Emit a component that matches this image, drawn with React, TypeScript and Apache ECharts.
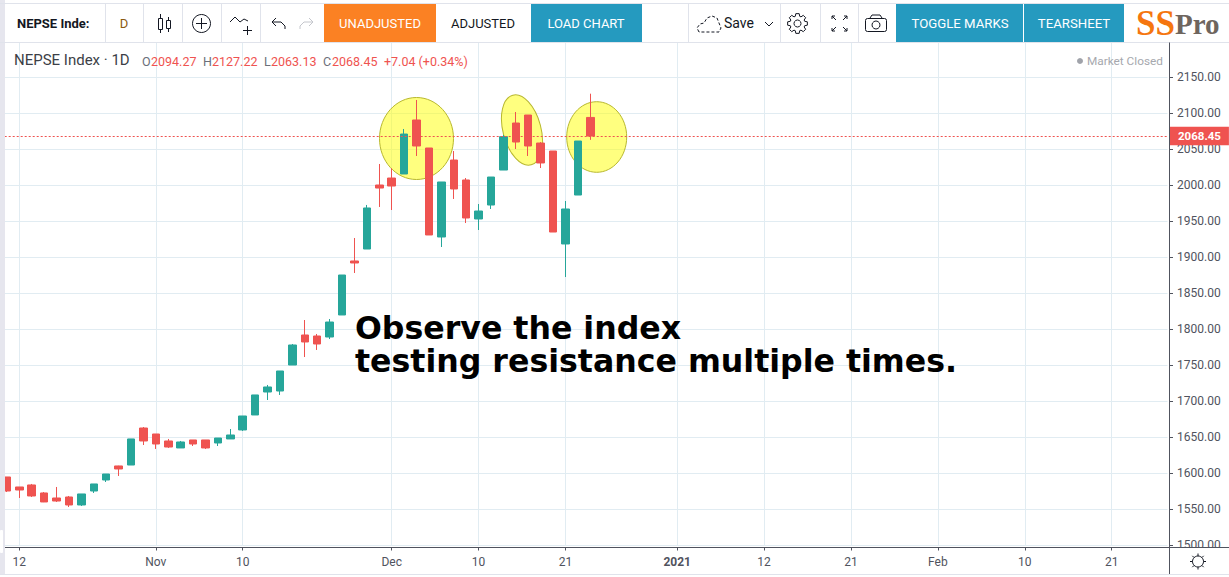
import React, { useEffect, useRef } from "react";
import * as echarts from "echarts";

const opens = [1594.9,1581,1583.8,1572.7,1565.7,1567.1,1556,1575.4,1590.7,1610.2,1611.5,1662.9,1654.6,1644.9,1635.2,1646.3,1646.3,1642.1,1647.7,1660.2,1681,1712.9,1714.3,1750.4,1792.1,1790.7,1789.3,1819.9,1894.9,1911.5,2000.4,2010.1,2015.7,2090.7,2051.8,1928.2,2035.1,2007.4,1953.2,1972.6,2021.2,2086.5,2097.6,2058.7,2047.6,1918.5,1986.5,2094.27];
const closes = [1575.4,1576.8,1568.5,1560.2,1561.5,1556,1571.3,1585.2,1599,1606,1647.7,1644.9,1640.7,1636.5,1643.5,1640.7,1635.2,1649,1653.2,1679.6,1708.8,1719.9,1742.1,1778.2,1782.4,1779.6,1810.1,1875.4,1892.1,1968.5,1996.2,1999,2071.2,2054.6,1931,2004.6,1994.9,1954.6,1964.3,2011.5,2067.5,2060.1,2054.6,2031,1935.1,1967.1,2061.5,2068.45];
const lows = [1574,1565.7,1567.1,1560,1560.2,1553.2,1554.6,1572.7,1587.9,1596.3,1611.5,1639.3,1633.8,1635.2,1635.2,1637.9,1633.8,1637.9,1647.7,1658.8,1681,1701.8,1708.8,1750.4,1761.5,1771.3,1786.5,1819.9,1878.2,1911.5,1969.9,1965.7,2015.7,2040.7,1931,1914.3,1981,1947.6,1937.9,1967.1,2021.2,2050.4,2040.7,2024,1935.1,1872.6,1986.5,2063.13];
const highs = [1594.9,1581,1585.2,1574,1581,1568.5,1571.3,1585.2,1599,1610.5,1647.7,1664.3,1654.6,1647.7,1644.9,1646.3,1646.3,1649,1661.5,1679.6,1708.8,1722.7,1742.1,1779.6,1812.9,1793.5,1814.3,1875.4,1926.8,1972.7,2029.6,2023.6,2078.2,2118.5,2051.8,2004.6,2047.6,2010.1,1974,2011.5,2069.9,2101.8,2097.6,2060,2047.6,1978.2,2061.5,2127.22];
const tickIndices = [1,12,19,31,38,45,54,61,68,75,82,89];
const tickLabels = ["12","Nov","10","Dec","10","21","2021","12","21","Feb","10","21"];
const categoryCount = 94;
const lastPrice = 2068.45;

const FONT = "Roboto";
const Z = 100;
const INK = "#131722";
const AXIS = "#50535e";
const BORDER = "#e0e3eb";
const BLUE = "#259abf";
const ORANGE = "#fb8123";

const txt = (text: string, x: number, y: number, fill: string, size = 13, extra: any = {}) => ({
  type: "text", silent: true, z: Z + 2, x, y,
  style: { text, fill, font: `${extra.weight || "normal"} ${size}px ${extra.family || FONT}`, align: extra.align || "left", verticalAlign: "middle", lineHeight: extra.lineHeight },
});
const box = (x: number, y: number, width: number, height: number, fill: string, z = Z) => ({
  type: "rect", silent: true, z, shape: { x, y, width, height }, style: { fill },
});
const seg = (x1: number, y1: number, x2: number, y2: number, stroke = INK, lineWidth = 1, z = Z + 2) => ({
  type: "line", silent: true, z, shape: { x1, y1, x2, y2 }, style: { stroke, lineWidth },
});
const poly = (points: number[][], stroke = INK, lineWidth = 1) => ({
  type: "polyline", silent: true, z: Z + 2, shape: { points }, style: { stroke, lineWidth, fill: "none" },
});
const circ = (cx: number, cy: number, r: number, stroke = INK, lineWidth = 1) => ({
  type: "circle", silent: true, z: Z + 2, shape: { cx, cy, r }, style: { stroke, fill: "none", lineWidth },
});
const frame = (x: number, y: number, width: number, height: number, stroke = INK, r = 0) => ({
  type: "rect", silent: true, z: Z + 2, shape: { x, y, width, height, r }, style: { stroke, fill: "none", lineWidth: 1 },
});
const gear = (cx: number, cy: number, R: number, r: number) => {
  const points: number[][] = [];
  for (let k = 0; k < 8; k++) {
    const a = (k * Math.PI) / 4;
    [-0.3, -0.17, 0.17, 0.3].forEach((d, j) => {
      const rad = j === 0 || j === 3 ? r : R;
      points.push([cx + rad * Math.cos(a + d), cy + rad * Math.sin(a + d)]);
    });
  }
  return { type: "polygon", silent: true, z: Z + 2, shape: { points }, style: { stroke: INK, fill: "none", lineWidth: 1 } };
};
const ellipse = (x: number, y: number, rx: number, ry: number, rotation = 0) => ({
  type: "ellipse", silent: true, z: 1, x, y, rotation,
  shape: { cx: 0, cy: 0, rx, ry },
  style: { fill: "rgba(255,255,0,0.5)", stroke: "#b8b82e", lineWidth: 1 },
});

const chrome: any[] = [
  ellipse(416.5, 138.5, 37, 41),
  ellipse(522, 130, 19, 36, 0.26),
  ellipse(596.7, 137, 30, 35.3),
  // chart annotation
  txt("Observe the index\ntesting resistance multiple times.", 355, 344, "#000000", 31.6, { weight: "bold", family: '"DejaVu Sans"', lineHeight: 33 }),
  // surrounding page
  box(0, 0, 1229, 42.5, "#ffffff"),
  box(0, 0, 5, 577, "#e6e6ee"),
  box(1170, 547.8, 59, 27, "#ffffff"),
  box(0, 574.5, 1229, 3, "#ffffff"),
  seg(0, 574.5, 1229, 574.5, BORDER),
  seg(0, 3.5, 1229, 3.5, BORDER),
  seg(0, 42.5, 1229, 42.5, BORDER),
  seg(5, 547.5, 1229, 547.5, AXIS),
  seg(1169.5, 42.5, 1169.5, 574, AXIS),
  { type: "rect", silent: true, z: Z + 1, shape: { x: 0, y: 530, width: 3, height: 23, r: 1 }, style: { fill: "#ffffff" } },
  // toolbar separators
  ...[105, 143, 182, 221, 260, 688, 780, 820, 858].map((x) => seg(x + 0.5, 4, x + 0.5, 42, BORDER)),
  box(324, 4, 112, 38, ORANGE, Z + 1),
  box(531, 4, 111, 38, BLUE, Z + 1),
  box(896, 4, 127, 38, BLUE, Z + 1),
  box(1024, 4, 100, 38, BLUE, Z + 1),
  txt("NEPSE Inde:", 17, 23, INK, 13, { weight: "bold" }),
  txt("D", 124, 23, "#8a5a10", 13, { align: "center" }),
  txt("UNADJUSTED", 380, 23, "#ffffff", 13, { align: "center" }),
  txt("ADJUSTED", 483, 23, INK, 13, { align: "center" }),
  txt("LOAD CHART", 586, 23, "#ffffff", 13, { align: "center" }),
  txt("Save", 724, 23, INK, 14),
  txt("TOGGLE MARKS", 960, 23, "#ffffff", 13.2, { align: "center" }),
  txt("TEARSHEET", 1074, 23, "#ffffff", 13.2, { align: "center" }),
  txt("SS", 1136, 23, "#f5760f", 35, { weight: "bold", family: '"Liberation Serif"' }),
  txt("Pro", 1175, 24, "#6e655e", 29, { weight: "bold", family: '"Liberation Serif"' }),
  // candle icon
  frame(158.5, 18.5, 4, 11), seg(160.5, 14, 160.5, 18.5), seg(160.5, 29.5, 160.5, 33),
  frame(166.5, 20.5, 4, 8), seg(168.5, 17, 168.5, 20.5), seg(168.5, 28.5, 168.5, 32),
  // add indicator icon
  circ(201.5, 23.5, 9), seg(196, 23.5, 207, 23.5), seg(201.5, 18, 201.5, 29),
  // line + icon
  poly([[230, 22], [235, 17], [240, 22], [244, 19], [248, 21]]), seg(243, 30.5, 252, 30.5), seg(247.5, 26, 247.5, 35),
  // undo / redo
  poly([[276, 18], [272, 22], [276, 26]]), poly([[272, 22], [281, 22], [285, 26], [285, 29]]),
  poly([[309, 18], [313, 22], [309, 26]], "#c4c6cc"), poly([[313, 22], [304, 22], [300, 26], [300, 29]], "#c4c6cc"),
  // save cloud
  { type: "polygon", silent: true, z: Z + 2, shape: { points: [[699, 32], [697, 28], [700, 24], [704, 23], [707, 18], [712, 16], [717, 18], [719, 23], [721, 28], [719, 32]] }, style: { stroke: INK, fill: "none", lineWidth: 1, lineDash: [3, 2] } },
  poly([[765, 22], [769, 26], [773, 22]]),
  // gear
  gear(797.5, 23.5, 10, 7.5), circ(797.5, 23.5, 3.5),
  // fullscreen
  poly([[832, 19], [832, 16], [835, 16]]), seg(832, 16, 836, 20),
  poly([[844, 16], [847, 16], [847, 19]]), seg(847, 16, 843, 20),
  poly([[832, 28], [832, 31], [835, 31]]), seg(832, 31, 836, 27),
  poly([[844, 31], [847, 31], [847, 28]]), seg(847, 31, 843, 27),
  // camera
  frame(865.5, 18.5, 21, 13, INK, 2), circ(876, 25, 4), poly([[870, 18], [872, 15], [880, 15], [882, 18]]),
  // legend row
  txt("NEPSE Index · 1D", 14, 60, "#3c3f47", 15),
  txt("O", 142, 61, "#6b6f7a", 12.5), txt("2094.27", 151, 61, "#ef5350", 12.5),
  txt("H", 203, 61, "#6b6f7a", 12.5), txt("2127.22", 212, 61, "#ef5350", 12.5),
  txt("L", 264, 61, "#6b6f7a", 12.5), txt("2063.13", 271, 61, "#ef5350", 12.5),
  txt("C", 323, 61, "#6b6f7a", 12.5), txt("2068.45", 332, 61, "#ef5350", 12.5),
  txt("+7.04 (+0.34%)", 384, 61, "#ef5350", 12.5),
  { type: "circle", silent: true, z: Z + 2, shape: { cx: 1080, cy: 61, r: 3 }, style: { fill: "#a0a3aa" } },
  txt("Market Closed", 1087, 61, "#a6a8ae", 11.8),
  // bottom-right settings
  circ(1198, 561.5, 5.5),
  ...[0, 1, 2, 3, 4, 5, 6, 7].map((k) => {
    const a = (k * Math.PI) / 4;
    return seg(1198 + 5.5 * Math.cos(a), 561.5 + 5.5 * Math.sin(a), 1198 + 8 * Math.cos(a), 561.5 + 8 * Math.sin(a));
  }),
];

const tickMap = new Map(tickIndices.map((p, i) => [p, tickLabels[i]]));
const categories = Array.from({ length: categoryCount }, (_, i) => `bar${i}`);
const showTick = (i: number) => tickMap.has(i);

export default function App() {
  const ref = useRef<HTMLDivElement>(null);
  useEffect(() => {
    const chart = echarts.init(ref.current!, null, { renderer: "svg" });
    chart.setOption({
      animation: false,
      backgroundColor: "#ffffff",
      grid: { left: 0.7, top: 41.3, width: 1166.8, height: 504, containLabel: false },
      xAxis: {
        type: "category",
        data: categories,
        position: "bottom",
        offset: 2.2,
        axisLine: { show: true, onZero: false, lineStyle: { color: AXIS } },
        axisTick: { show: true, alignWithLabel: true, interval: (i: number) => showTick(i), length: 3, lineStyle: { color: AXIS } },
        splitLine: { show: true, alignWithLabel: true, interval: (i: number) => showTick(i), lineStyle: { color: "#e1ecf2", width: 1 } },
        axisLabel: {
          interval: (i: number) => showTick(i),
          margin: 8,
          fontFamily: FONT,
          fontSize: 12,
          color: AXIS,
          formatter: (_v: string, i: number) => {
            const label = tickMap.get(i) || "";
            return label === "2021" ? `{b|${label}}` : label;
          },
          rich: { b: { fontFamily: FONT, fontSize: 12, fontWeight: "bold", color: AXIS } },
        },
      },
      yAxis: {
        type: "value",
        position: "right",
        min: 1500,
        max: 2200,
        interval: 50,
        offset: 1.5,
        axisLine: { show: true, lineStyle: { color: AXIS } },
        axisTick: { show: true, length: 4, lineStyle: { color: AXIS } },
        splitLine: { show: true, lineStyle: { color: "#e1ecf2", width: 1 } },
        axisLabel: {
          showMaxLabel: false,
          margin: 8,
          padding: [2, 0, 0, 0],
          fontFamily: FONT,
          fontSize: 12,
          color: AXIS,
          formatter: (v: number) => v.toFixed(2),
        },
      },
      series: [
        {
          type: "candlestick",
          barWidth: 8,
          clip: false,
          data: opens.map((o, i) => [o, closes[i], lows[i], highs[i]]),
          itemStyle: { color: "#26a69a", borderColor: "#26a69a", color0: "#ef5350", borderColor0: "#ef5350", borderWidth: 1 },
          markLine: {
            silent: true,
            symbol: "none",
            data: [{ yAxis: lastPrice }],
            lineStyle: { color: "#ef5350", type: [2, 2], width: 1 },
            label: {
              show: true,
              position: "end",
              distance: 2.5,
              formatter: lastPrice.toFixed(2),
              backgroundColor: "#ef5350",
              color: "#ffffff",
              fontFamily: FONT,
              fontSize: 11.5,
              fontWeight: "bold",
              padding: [3.5, 8, 3, 8],
            },
          },
        },
      ],
      graphic: { elements: chrome },
    });
    return () => chart.dispose();
  }, []);
  return <div ref={ref} style={{ position: "fixed", left: 0, top: 0, width: 1229, height: 577 }} />;
}
